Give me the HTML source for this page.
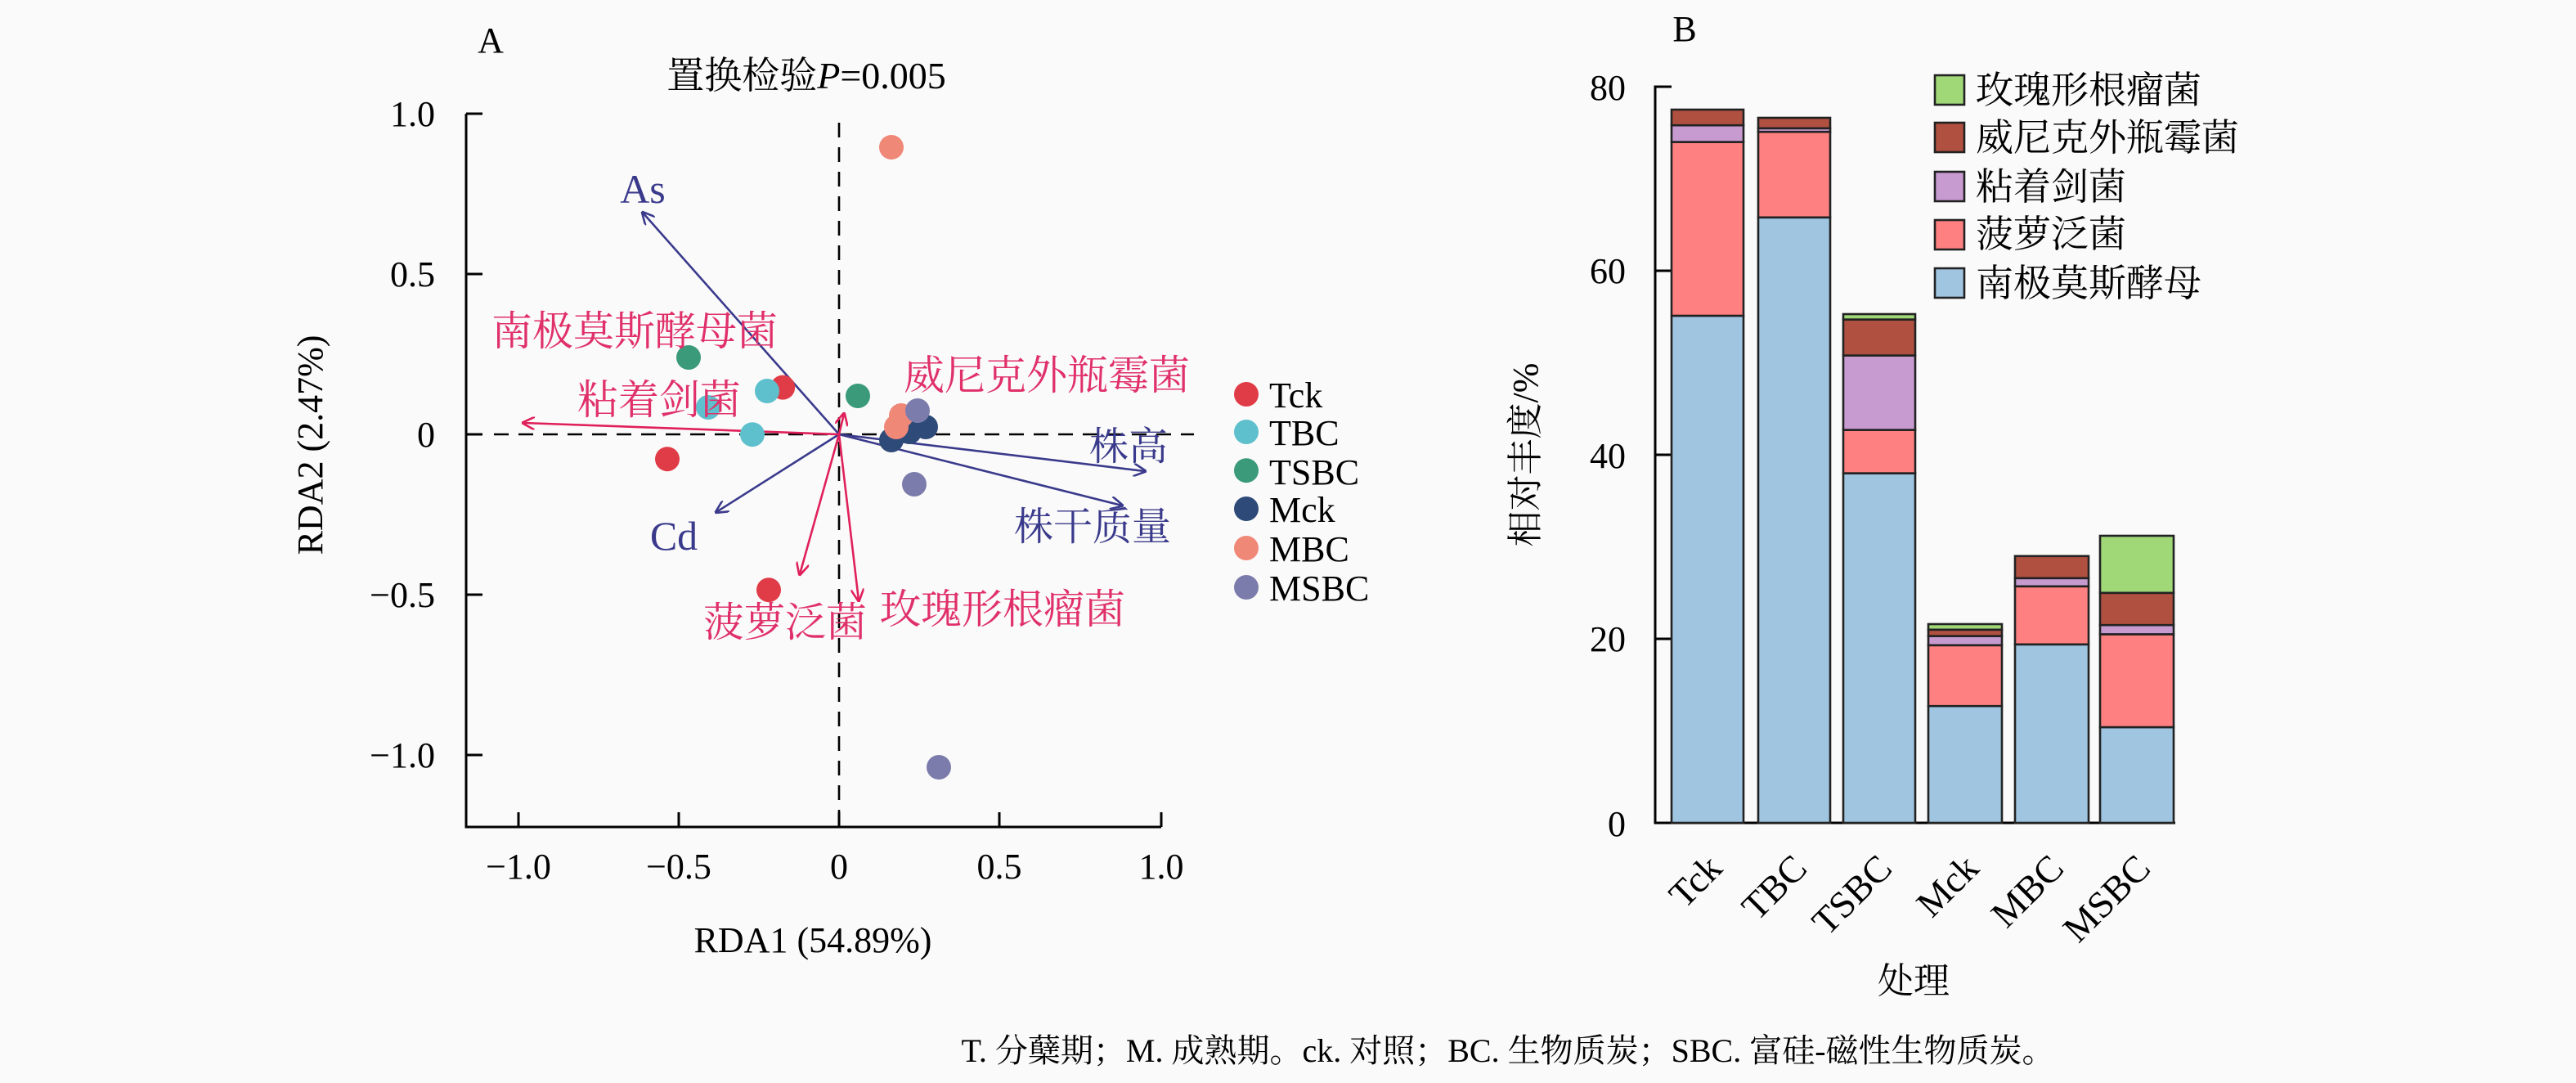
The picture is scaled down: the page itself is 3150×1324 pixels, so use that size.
<!DOCTYPE html>
<html><head><meta charset="utf-8"><style>
html,body{margin:0;padding:0;background:#fafafa;}
svg{display:block;}
text{font-family:"Liberation Serif","Noto Serif CJK SC",serif;}
</style></head><body>
<svg width="3150" height="1324" viewBox="0 0 1575 662" xmlns="http://www.w3.org/2000/svg">
<rect width="1575" height="662" fill="#fafafa"/>
<defs>
<marker id="ab" markerWidth="8" markerHeight="8" refX="7" refY="4" orient="auto" markerUnits="userSpaceOnUse"><path d="M0,0 L8,4 L0,8" fill="none" stroke="#3a3a8c" stroke-width="1.3"/></marker>
<marker id="ar" markerWidth="8" markerHeight="8" refX="7" refY="4" orient="auto" markerUnits="userSpaceOnUse"><path d="M0,0 L8,4 L0,8" fill="none" stroke="#e0205a" stroke-width="1.3"/></marker>
</defs>
<!-- Panel A -->
<text x="300" y="32" font-size="22" text-anchor="middle">A</text>
<text x="493" y="54" font-size="23" text-anchor="middle">置换检验<tspan font-style="italic">P</tspan>=0.005</text>
<g stroke="#000" stroke-width="1.5" fill="none">
<path d="M285,69.5 V505.5 H710"/>
<path d="M285,69.5 h10 M285,167.5 h10 M285,265.5 h10 M285,363.5 h10 M285,461.5 h10"/>
<path d="M317,505.5 v-9 M415,505.5 v-9 M513,505.5 v-9 M611,505.5 v-9 M710,505.5 v-9"/>
</g>
<g stroke="#000" stroke-width="1.3" stroke-dasharray="9,6">
<line x1="513" y1="75" x2="513" y2="505"/>
<line x1="302" y1="265.5" x2="730" y2="265.5"/>
</g>
<g font-size="22" text-anchor="end">
<text x="266" y="77">1.0</text><text x="266" y="175">0.5</text><text x="266" y="273">0</text><text x="266" y="371">−0.5</text><text x="266" y="469">−1.0</text>
</g>
<g font-size="22" text-anchor="middle">
<text x="317" y="537">−1.0</text><text x="415" y="537">−0.5</text><text x="513" y="537">0</text><text x="611" y="537">0.5</text><text x="710" y="537">1.0</text>
</g>
<text x="497" y="582" font-size="22" text-anchor="middle">RDA1 (54.89%)</text>
<text transform="translate(197,272) rotate(-90)" font-size="22" text-anchor="middle">RDA2 (2.47%)</text>
<!-- arrows -->
<g stroke="#3a3a8c" stroke-width="1.3" marker-end="url(#ab)">
<line x1="513" y1="265.5" x2="393" y2="130"/>
<line x1="513" y1="265.5" x2="438" y2="313"/>
<line x1="513" y1="265.5" x2="700" y2="288"/>
<line x1="513" y1="265.5" x2="686" y2="309"/>
</g>
<g stroke="#e0205a" stroke-width="1.3" marker-end="url(#ar)">
<line x1="513" y1="265.5" x2="320" y2="258.5"/>
<line x1="513" y1="265.5" x2="489" y2="351"/>
<line x1="513" y1="265.5" x2="525" y2="367"/>
<line x1="513" y1="265.5" x2="516" y2="253"/>
</g>
<!-- points -->
<g>
<circle cx="545" cy="90" r="7.5" fill="#f08878"/>
<circle cx="421" cy="218.5" r="7.5" fill="#3a9a7a"/>
<circle cx="478.6" cy="236.8" r="7.5" fill="#e03c48"/>
<circle cx="469" cy="239" r="7.5" fill="#5ec0cc"/>
<circle cx="433" cy="249" r="7.5" fill="#5ec0cc"/>
<circle cx="460" cy="265.6" r="7.5" fill="#5ec0cc"/>
<circle cx="408" cy="280.6" r="7.5" fill="#e03c48"/>
<circle cx="524.5" cy="242" r="7.5" fill="#3a9a7a"/>
<circle cx="470" cy="360.6" r="7.5" fill="#e03c48"/>
<circle cx="566" cy="261" r="7.5" fill="#2e4a78"/>
<circle cx="556" cy="264" r="7.5" fill="#2e4a78"/>
<circle cx="545" cy="269" r="7.5" fill="#2e4a78"/>
<circle cx="551" cy="254" r="7.5" fill="#f08878"/>
<circle cx="548" cy="261" r="7.5" fill="#f08878"/>
<circle cx="561" cy="251" r="7.5" fill="#7c7cac"/>
<circle cx="559" cy="296" r="7.5" fill="#7c7cac"/>
<circle cx="574" cy="469" r="7.5" fill="#7c7cac"/>
</g>
<g font-size="25" fill="#3a3a8c" text-anchor="middle">
<text x="393" y="124">As</text>
<text x="412" y="336">Cd</text>
<text x="690" y="281" font-size="24">株高</text>
<text x="668" y="330" font-size="24">株干质量</text>
</g>
<g font-size="25" fill="#e0306a" text-anchor="middle">
<text x="388" y="211">南极莫斯酵母菌</text>
<text x="403" y="253">粘着剑菌</text>
<text x="480" y="389">菠萝泛菌</text>
<text x="613" y="381">玫瑰形根瘤菌</text>
<text x="640" y="238">威尼克外瓶霉菌</text>
</g>
<g font-size="22">
<circle cx="762" cy="241" r="7.5" fill="#e03c48"/><text x="776" y="249">Tck</text>
<circle cx="762" cy="264" r="7.5" fill="#5ec0cc"/><text x="776" y="272">TBC</text>
<circle cx="762" cy="287.6" r="7.5" fill="#3a9a7a"/><text x="776" y="296">TSBC</text>
<circle cx="762" cy="311" r="7.5" fill="#2e4a78"/><text x="776" y="319">Mck</text>
<circle cx="762" cy="335" r="7.5" fill="#f08878"/><text x="776" y="343">MBC</text>
<circle cx="762" cy="359" r="7.5" fill="#7c7cac"/><text x="776" y="367">MSBC</text>
</g>
<!-- Panel B -->
<text x="1030" y="25" font-size="22" text-anchor="middle">B</text>
<g stroke="#000" stroke-width="1.5" fill="none">
<path d="M1022,53 H1012 V503 H1330"/>
<path d="M1012,165.5 h10 M1012,278 h10 M1012,390.5 h10"/>
</g>
<g font-size="22" text-anchor="end">
<text x="994" y="61">80</text><text x="994" y="173">60</text><text x="994" y="286">40</text><text x="994" y="398">20</text><text x="994" y="511">0</text>
</g>
<text transform="translate(940,278) rotate(-90)" font-size="22" text-anchor="middle">相对丰度/%</text>
<g stroke="#222" stroke-width="1.3">
<rect x="1022" y="193" width="44" height="310" fill="#9fc5e0"/>
<rect x="1022" y="86.8" width="44" height="106.2" fill="#ff8080"/>
<rect x="1022" y="76.6" width="44" height="10.2" fill="#c89bd0"/>
<rect x="1022" y="67" width="44" height="9.6" fill="#b05040"/>
<rect x="1075" y="132.9" width="44" height="370.1" fill="#9fc5e0"/>
<rect x="1075" y="80.6" width="44" height="52.3" fill="#ff8080"/>
<rect x="1075" y="78.4" width="44" height="2.2" fill="#c89bd0"/>
<rect x="1075" y="72" width="44" height="6.4" fill="#b05040"/>
<rect x="1127" y="289.3" width="44" height="213.7" fill="#9fc5e0"/>
<rect x="1127" y="262.8" width="44" height="26.5" fill="#ff8080"/>
<rect x="1127" y="217.3" width="44" height="45.5" fill="#c89bd0"/>
<rect x="1127" y="195.3" width="44" height="22" fill="#b05040"/>
<rect x="1127" y="192" width="44" height="3.3" fill="#a0d878"/>
<rect x="1179" y="431.6" width="45" height="71.4" fill="#9fc5e0"/>
<rect x="1179" y="394.4" width="45" height="37.2" fill="#ff8080"/>
<rect x="1179" y="388.8" width="45" height="5.6" fill="#c89bd0"/>
<rect x="1179" y="384.9" width="45" height="3.9" fill="#b05040"/>
<rect x="1179" y="381.5" width="45" height="3.4" fill="#a0d878"/>
<rect x="1232" y="393.9" width="45" height="109.1" fill="#9fc5e0"/>
<rect x="1232" y="358.4" width="45" height="35.5" fill="#ff8080"/>
<rect x="1232" y="353.4" width="45" height="5" fill="#c89bd0"/>
<rect x="1232" y="339.9" width="45" height="13.5" fill="#b05040"/>
<rect x="1284" y="444.5" width="45" height="58.5" fill="#9fc5e0"/>
<rect x="1284" y="387.7" width="45" height="56.8" fill="#ff8080"/>
<rect x="1284" y="382.1" width="45" height="5.6" fill="#c89bd0"/>
<rect x="1284" y="362.4" width="45" height="19.7" fill="#b05040"/>
<rect x="1284" y="327.5" width="45" height="34.9" fill="#a0d878"/>
</g>
<g font-size="23" text-anchor="end">
<text transform="translate(1054,532) rotate(-45)">Tck</text>
<text transform="translate(1106,532) rotate(-45)">TBC</text>
<text transform="translate(1158,532) rotate(-45)">TSBC</text>
<text transform="translate(1211,532) rotate(-45)">Mck</text>
<text transform="translate(1263,532) rotate(-45)">MBC</text>
<text transform="translate(1316,532) rotate(-45)">MSBC</text>
</g>
<text x="1170" y="607" font-size="22" text-anchor="middle">处理</text>
<g stroke="#222" stroke-width="1.3">
<rect x="1183" y="46" width="18" height="18" fill="#a0d878"/>
<rect x="1183" y="75" width="18" height="18" fill="#b05040"/>
<rect x="1183" y="105" width="18" height="18" fill="#c89bd0"/>
<rect x="1183" y="134.5" width="18" height="18" fill="#ff8080"/>
<rect x="1183" y="164" width="18" height="18" fill="#9fc5e0"/>
</g>
<g font-size="23">
<text x="1208" y="63">玫瑰形根瘤菌</text>
<text x="1208" y="92">威尼克外瓶霉菌</text>
<text x="1208" y="122">粘着剑菌</text>
<text x="1208" y="151">菠萝泛菌</text>
<text x="1208" y="181">南极莫斯酵母</text>
</g>
<text x="922" y="649" font-size="20" text-anchor="middle">T. 分蘖期；M. 成熟期。ck. 对照；BC. 生物质炭；SBC. 富硅-磁性生物质炭。</text>
</svg>
</body></html>
